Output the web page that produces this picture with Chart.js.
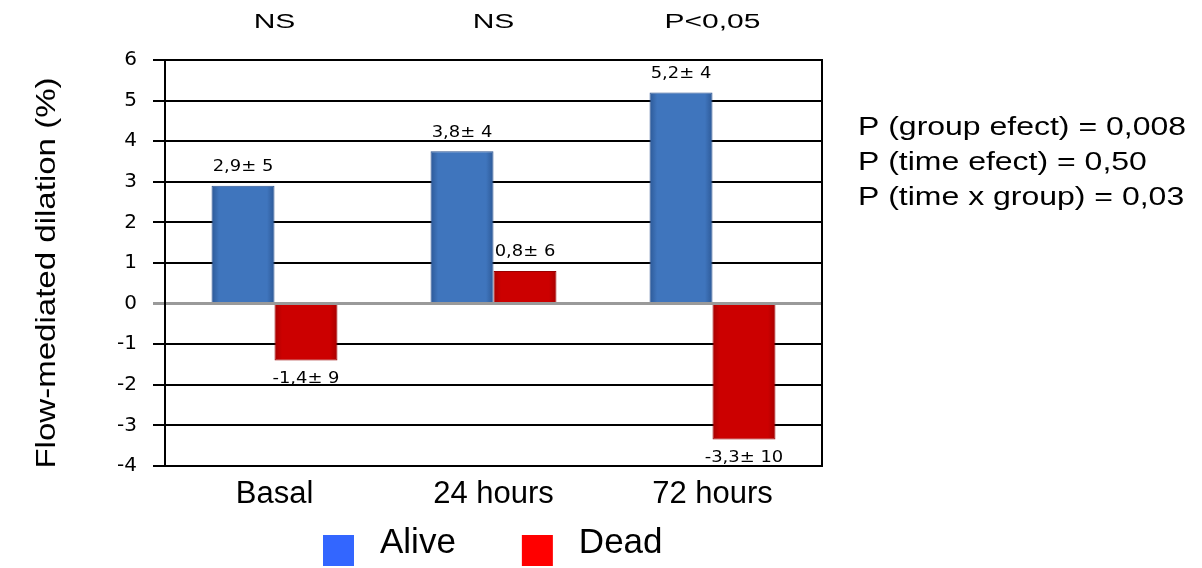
<!DOCTYPE html>
<html lang="en">
<head>
<meta charset="UTF-8">
<title>Flow-mediated dilation</title>
<script src="https://cdn.jsdelivr.net/npm/chart.js"></script>
<style>
  html, body { margin: 0; padding: 0; background: #fff; }
  #chart { display: block; }
</style>
</head>
<body>
<canvas id="chart" width="1202" height="568"></canvas>
<script>
// values
const categories = ['Basal', '24 hours', '72 hours'];
const aliveValues = [2.9, 3.75, 5.2];
const deadValues = [-1.4, 0.8, -3.35];
const aliveLabels = ['2,9± 5', '3,8± 4', '5,2± 4'];
const deadLabels = ['-1,4± 9', '0,8± 6', '-3,3± 10'];
const groupTests = ['NS', 'NS', 'P<0,05'];
const statLines = ['P (group efect) = 0,008', 'P (time efect) = 0,50', 'P (time x group) = 0,03'];
const yTitle = 'Flow-mediated dilation (%)';
const yMin = -4, yMax = 6;

// [edge, middle] for the bevelled bars
const barShades = [['#2d5997', '#3f75bd'], ['#a80000', '#cc0000']];
const barEdges = ['#2a5290', '#990000'];
const legendColors = ['#3366ff', '#ff0000'];

// horizontal shading inside each bar, once the bar has its position
function barFill(d) {
    return (c) => {
        const el = c.element;
        if (!el || !isFinite(el.x) || !isFinite(el.width)) return barShades[d][1];
        const g = c.chart.ctx.createLinearGradient(el.x - el.width / 2, 0, el.x + el.width / 2, 0);
        g.addColorStop(0, barShades[d][0]);
        g.addColorStop(0.12, barShades[d][1]);
        g.addColorStop(0.88, barShades[d][1]);
        g.addColorStop(1, barShades[d][0]);
        return g;
    };
}

// text in the original figure is stretched sideways
function stretchText(ctx, text, x, y, sx) {
    ctx.save();
    ctx.translate(x, y);
    ctx.scale(sx, 1);
    ctx.fillText(text, 0, 0);
    ctx.restore();
}

const annotations = {
    id: 'annotations',
    afterDatasetsDraw(chart) {
        const ctx = chart.ctx;
        const area = chart.chartArea;
        ctx.save();
        ctx.fillStyle = '#000';
        ctx.textAlign = 'center';
        ctx.textBaseline = 'middle';

        // mean ± sd over / under each bar
        ctx.font = '16px "DejaVu Sans"';
        [aliveLabels, deadLabels].forEach((labels, d) => {
            chart.getDatasetMeta(d).data.forEach((bar, i) => {
                const v = chart.data.datasets[d].data[i];
                const y = v >= 0 ? bar.y - 19 : bar.y + 18;
                stretchText(ctx, labels[i], bar.x, y, 1.12);
            });
        });

        // between-group tests on top
        ctx.font = '20px "Liberation Sans"';
        const xs = chart.scales.x;
        groupTests.forEach((t, i) => stretchText(ctx, t, xs.getPixelForValue(i), 22, 1.5));

        // y axis title, rotated
        ctx.save();
        ctx.translate(55, (area.top + area.bottom) / 2 + 10);
        ctx.rotate(-Math.PI / 2);
        ctx.font = '28px "Liberation Sans"';
        ctx.textBaseline = 'alphabetic';
        stretchText(ctx, yTitle, 0, 0, 1.18);
        ctx.restore();

        // anova results on the right
        ctx.font = '26px "Liberation Sans"';
        ctx.textAlign = 'left';
        statLines.forEach((t, i) => stretchText(ctx, t, area.right + 36, 128 + i * 35, 1.23));

        // legend
        ctx.font = '35px "Liberation Sans"';
        ctx.textBaseline = 'alphabetic';
        let lx = 323;
        chart.data.datasets.forEach((ds, i) => {
            ctx.fillStyle = legendColors[i];
            ctx.fillRect(lx, 535, 31, 31);
            ctx.fillStyle = '#000';
            ctx.fillText(ds.label, lx + 57, 553);
            lx += 57 + ctx.measureText(ds.label).width + 66;
        });
        ctx.restore();
    }
};

const chart = new Chart(document.getElementById('chart'), {
    type: 'bar',
    data: {
        labels: categories,
        datasets: [
            { label: 'Alive', data: aliveValues, backgroundColor: barFill(0), borderColor: barEdges[0], borderWidth: 1 },
            { label: 'Dead', data: deadValues, backgroundColor: barFill(1), borderColor: barEdges[1], borderWidth: 1 }
        ]
    },
    options: {
        responsive: false,
        devicePixelRatio: 1,
        animation: false,
        layout: { padding: { top: 60, right: 300, left: 8, bottom: 62 } },
        datasets: { bar: { categoryPercentage: 0.575, barPercentage: 1 } },
        plugins: {
            tooltip: { enabled: false },
            legend: { display: false }
        },
        scales: {
            x: {
                grid: { display: false },
                border: { display: false },
                ticks: { color: '#000', font: { family: 'Liberation Sans', size: 31 }, padding: 2 },
                afterFit: (s) => { s.height = 40; }
            },
            y: {
                min: yMin,
                max: yMax,
                ticks: { stepSize: 1, color: '#000', font: { family: 'DejaVu Sans', size: 20 }, padding: 16 },
                grid: {
                    color: (c) => c.tick && c.tick.value === 0 ? '#9a9a9a' : '#000',
                    lineWidth: (c) => c.tick && c.tick.value === 0 ? 3 : 2,
                    tickLength: 12
                },
                border: { color: '#000', width: 2 },
                afterFit: (s) => { s.width = 157; }
            },
            y2: {
                display: true,
                position: 'right',
                min: yMin,
                max: yMax,
                grid: { display: false },
                ticks: { display: false },
                border: { color: '#000', width: 2 },
                afterFit: (s) => { s.width = 80; }
            }
        }
    },
    plugins: [annotations]
});
// second pass so the gradients know where each bar sits
chart.update('none');
</script>
</body>
</html>
